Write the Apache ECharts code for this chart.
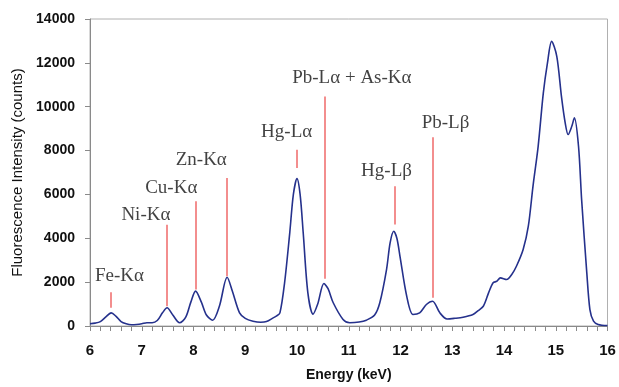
<!DOCTYPE html>
<html>
<head>
<meta charset="utf-8">
<script src="https://cdn.jsdelivr.net/npm/echarts@6/dist/echarts.min.js"></script>
<style>
  html, body { margin: 0; padding: 0; background: #fff; }
  #chart { width: 619px; height: 387px; }
</style>
</head>
<body>
<div id="chart"></div>
<script>
// spectrum: energy (keV) / counts
const energy = [6.0, 6.1, 6.2, 6.3, 6.41, 6.5, 6.6, 6.7, 6.8, 6.9, 7.0, 7.1, 7.2, 7.3, 7.4, 7.49, 7.6, 7.73, 7.85, 7.95, 8.04, 8.15, 8.25, 8.37, 8.5, 8.65, 8.75, 8.89, 9.0, 9.15, 9.3, 9.41, 9.54, 9.6, 9.67, 9.76, 9.86, 9.93, 10.0, 10.06, 10.12, 10.21, 10.31, 10.4, 10.52, 10.6, 10.7, 10.89, 11.02, 11.2, 11.34, 11.5, 11.6, 11.73, 11.8, 11.87, 11.93, 11.99, 12.12, 12.24, 12.37, 12.5, 12.62, 12.76, 12.9, 13.05, 13.21, 13.4, 13.5, 13.6, 13.7, 13.79, 13.86, 13.93, 14.05, 14.15, 14.24, 14.37, 14.47, 14.56, 14.66, 14.76, 14.84, 14.92, 15.02, 15.11, 15.18, 15.24, 15.31, 15.36, 15.44, 15.5, 15.6, 15.66, 15.73, 15.82, 16.0];
const counts = [100, 130, 200, 400, 600, 450, 200, 100, 60, 70, 100, 150, 150, 250, 600, 830, 500, 145, 400, 1100, 1590, 1100, 500, 265, 900, 2225, 1600, 600, 350, 220, 170, 200, 370, 450, 600, 1970, 4250, 6000, 6720, 6000, 4250, 1510, 540, 1000, 1940, 1700, 1060, 300, 150, 180, 265, 500, 1060, 2575, 3800, 4320, 4000, 3180, 1360, 525, 600, 980, 1130, 600, 320, 350, 400, 525, 700, 900, 1500, 1970, 2040, 2195, 2120, 2350, 2725, 3490, 4550, 6370, 8195, 10630, 11995, 12980, 12300, 10470, 9300, 8730, 9105, 9490, 8195, 5765, 2425, 750, 220, 70, 20];

// peak markers: label, line energy, line bottom/top, label position
const peakNames = ['Fe-K\u03b1', 'Ni-K\u03b1', 'Cu-K\u03b1', 'Zn-K\u03b1', 'Hg-L\u03b1', 'Pb-L\u03b1 + As-K\u03b1', 'Hg-L\u03b2', 'Pb-L\u03b2'];
const peakE = [6.41, 7.49, 8.04, 8.65, 10.0, 10.53, 11.89, 12.62];
const lineBottom = [830, 900, 1660, 2270, 7210, 2150, 4625, 1285];
const lineTop = [1540, 4620, 5690, 6750, 8040, 10470, 6370, 8610];
const labelE = [6.57, 7.08, 7.57, 8.15, 9.80, 11.06, 11.73, 12.87];
const labelY = [2270, 5080, 6300, 7590, 8865, 11325, 7055, 9260];

const chart = echarts.init(document.getElementById('chart'));

const lines = peakE.map((e, i) => [
  { coord: [e, lineBottom[i]] },
  { coord: [e, lineTop[i]] }
]);
const labels = labelE.map((e, i) => ({ name: peakNames[i], value: [e, labelY[i]] }));

const axisGray = '#8a8a8a';

chart.setOption({
  animation: false,
  grid: {
    left: 90, right: 11.5, top: 19, bottom: 60.5,
    show: true, borderColor: '#b0b0b0', borderWidth: 1
  },
  xAxis: {
    type: 'value',
    min: 6, max: 16, interval: 1,
    name: 'Energy (keV)',
    nameLocation: 'middle',
    nameGap: 42,
    nameTextStyle: { fontFamily: 'Liberation Sans', fontWeight: 'bold', fontSize: 14, color: '#111' },
    axisLine: { lineStyle: { color: axisGray } },
    axisTick: { show: true, inside: false, length: 5, lineStyle: { color: axisGray } },
    minorTick: { show: true, splitNumber: 5, length: 5, lineStyle: { color: axisGray } },
    axisLabel: { margin: 17, fontFamily: 'Liberation Sans', fontWeight: 'bold', fontSize: 15, color: '#111' },
    splitLine: { show: false }
  },
  yAxis: {
    type: 'value',
    min: 0, max: 14000, interval: 2000,
    name: 'Fluorescence Intensity (counts)',
    nameLocation: 'middle',
    nameGap: 58,
    nameTextStyle: { fontFamily: 'Liberation Sans', fontSize: 15, color: '#111' },
    axisLine: { show: true, lineStyle: { color: axisGray } },
    axisTick: { show: true, length: 5, lineStyle: { color: axisGray } },
    axisLabel: {
      margin: 15, fontFamily: 'Liberation Sans', fontWeight: 'bold', fontSize: 14, color: '#111',
      formatter: (v) => String(v)
    },
    splitLine: { show: false }
  },
  series: [
    {
      type: 'line',
      data: energy.map((e, i) => [e, counts[i]]),
      smooth: 0.3,
      showSymbol: false,
      lineStyle: { color: '#25318c', width: 1.6 },
      markLine: {
        silent: true,
        symbol: 'none',
        label: { show: false },
        lineStyle: { color: '#f07272', width: 1.6, type: 'solid' },
        data: lines
      }
    },
    {
      type: 'scatter',
      data: labels,
      symbolSize: 0,
      silent: true,
      label: {
        show: true,
        position: 'inside',
        formatter: '{b}',
        fontFamily: 'Liberation Serif',
        fontSize: 19,
        color: '#111'
      }
    }
  ]
});
</script>
</body>
</html>
